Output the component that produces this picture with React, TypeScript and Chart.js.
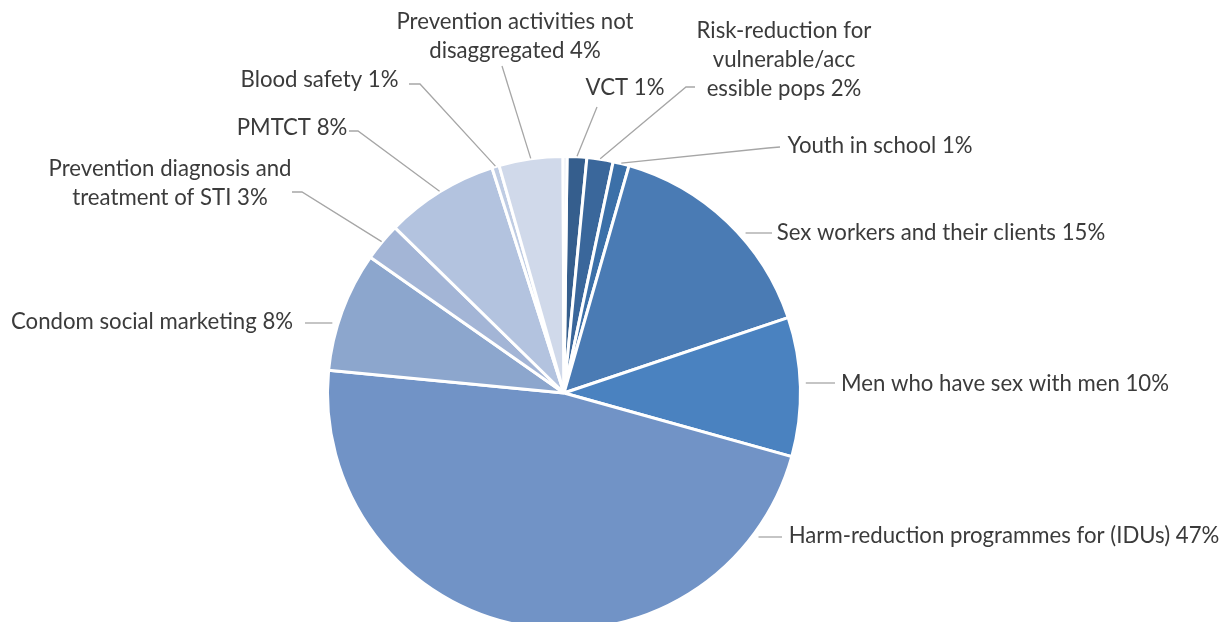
import React, { useEffect, useRef } from "react";
import { Chart, registerables } from "chart.js";

Chart.register(...registerables);

// ---- data ----
const categories = [
  "VCT",
  "Risk-reduction for vulnerable/accessible pops",
  "Youth in school",
  "Sex workers and their clients",
  "Men who have sex with men",
  "Harm-reduction programmes for (IDUs)",
  "Condom social marketing",
  "Prevention diagnosis and treatment of STI",
  "PMTCT",
  "Blood safety",
  "Prevention activities not disaggregated",
  "Other",
];

const shares = [1.34, 1.79, 1.1, 15.4, 9.5, 47.2, 8.2, 2.6, 7.75, 0.5, 4.36, 0.27];

const labelLines = [
  ["VCT 1%"],
  ["Risk-reduction for", "vulnerable/acc", "essible pops 2%"],
  ["Youth in school 1%"],
  ["Sex workers and their clients 15%"],
  ["Men who have sex with men 10%"],
  ["Harm-reduction programmes for (IDUs) 47%"],
  ["Condom social marketing 8%"],
  ["Prevention diagnosis and", "treatment of STI 3%"],
  ["PMTCT 8%"],
  ["Blood safety 1%"],
  ["Prevention activities not", "disaggregated 4%"],
  [],
];

// ---- styles / layout ----
const colors = [
  "#355E8D",
  "#3A679B",
  "#3C70A8",
  "#4A7BB4",
  "#4A82C0",
  "#7193C6",
  "#8CA6CD",
  "#A3B5D6",
  "#B3C3DF",
  "#BFCCE3",
  "#D0D9EA",
  "#E4E9F3",
];

type Layout = { x: number; y: number; lead: number[][]; mode: "h" | "d" } | null;
const labelLayout: Layout[] = [
  { x: 625, y: 88, lead: [[597, 107]], mode: "d" },
  { x: 784, y: 31, lead: [[695, 87], [686, 87]], mode: "d" },
  { x: 880, y: 146, lead: [[780, 147], [768, 148]], mode: "d" },
  { x: 941, y: 233, lead: [[772, 233]], mode: "h" },
  { x: 1005, y: 384, lead: [[835, 383]], mode: "h" },
  { x: 1004, y: 536, lead: [[782, 537]], mode: "h" },
  { x: 152, y: 322, lead: [[305, 323]], mode: "h" },
  { x: 170, y: 169, lead: [[292, 192], [302, 192]], mode: "d" },
  { x: 292, y: 128, lead: [[349, 131], [358, 131]], mode: "d" },
  { x: 319.5, y: 80, lead: [[409, 84], [420, 84]], mode: "d" },
  { x: 515, y: 22, lead: [[502, 66]], mode: "d" },
  null,
];

const FONT_FAMILY = "Lato, 'Noto Sans', sans-serif";
const WIDEST_TEXT_PX = 431;
const LINE_HEIGHT = 29;
const TEXT_COLOR = "#3b3b3b";
const LEADER_COLOR = "#a6a6a6";

const labelPlugin = {
  id: "pieLabels",
  afterDatasetsDraw(chart: any) {
    const ctx: CanvasRenderingContext2D = chart.ctx;
    const meta = chart.getDatasetMeta(0);
    ctx.save();
    ctx.font = `100px ${FONT_FAMILY}`;
    const w = ctx.measureText(labelLines[5][0]).width;
    const size = (100 * WIDEST_TEXT_PX) / w;
    ctx.font = `${size}px ${FONT_FAMILY}`;
    ctx.fillStyle = TEXT_COLOR;
    ctx.textAlign = "center";
    ctx.textBaseline = "middle";
    ctx.strokeStyle = LEADER_COLOR;
    ctx.lineWidth = 1.3;

    meta.data.forEach((arc: any, i: number) => {
      const lay = labelLayout[i];
      if (!lay) return;
      const cx = arc.x;
      const cy = arc.y;
      const r = arc.outerRadius - 1.5;
      const pts = lay.lead.map((p) => [p[0], p[1]]);
      const last = pts[pts.length - 1];
      let end: number[];
      if (lay.mode === "h") {
        const R = r + 7;
        const dy = last[1] - cy;
        const side = last[0] > cx ? 1 : -1;
        end = [cx + side * Math.sqrt(Math.max(R * R - dy * dy, 0)), last[1]];
      } else {
        const mid = (arc.startAngle + arc.endAngle) / 2;
        const R = r + 2;
        end = [cx + Math.cos(mid) * R, cy + Math.sin(mid) * R];
      }
      ctx.beginPath();
      ctx.moveTo(pts[0][0], pts[0][1]);
      for (let k = 1; k < pts.length; k++) ctx.lineTo(pts[k][0], pts[k][1]);
      ctx.lineTo(end[0], end[1]);
      ctx.stroke();

      labelLines[i].forEach((line, k) => {
        ctx.fillText(line, lay.x, lay.y + k * LINE_HEIGHT);
      });
    });
    ctx.restore();
  },
};

export default function App() {
  const ref = useRef<HTMLCanvasElement>(null);

  useEffect(() => {
    document.body.style.margin = "0";
    if (!ref.current) return;
    const chart = new Chart(ref.current, {
      type: "pie",
      data: {
        labels: categories,
        datasets: [
          {
            data: shares,
            backgroundColor: colors,
            borderColor: "#ffffff",
            borderWidth: 3,
            hoverOffset: 0,
          },
        ],
      },
      options: {
        animation: false,
        responsive: false,
        rotation: 0.74,
        events: [],
        layout: { padding: { top: 155, bottom: 29, left: 0, right: 93 } },
        plugins: {
          legend: { display: false },
          tooltip: { enabled: false },
        },
      },
      plugins: [labelPlugin],
    } as any);
    return () => chart.destroy();
  }, []);

  return (
    <div
      style={{
        position: "absolute",
        left: 0,
        top: 0,
        width: 1221,
        height: 622,
        overflow: "hidden",
        background: "#ffffff",
      }}
    >
      <canvas ref={ref} width={1221} height={660} style={{ display: "block" }} />
    </div>
  );
}
